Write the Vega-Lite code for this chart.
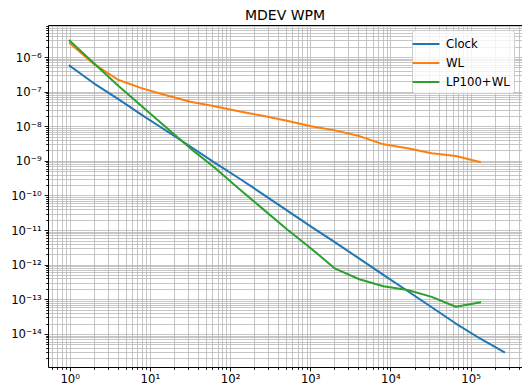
{
  "$schema": "https://vega.github.io/schema/vega-lite/v6.json",
  "width": 474,
  "height": 342,
  "autosize": {"type": "none"},
  "padding": {"left": 48, "top": 25, "right": 0, "bottom": 24},
  "background": "white",
  "title": {"text": "MDEV WPM", "font": "DejaVu Sans", "fontSize": 14, "fontWeight": "normal", "color": "black", "offset": 6, "dy": 8, "anchor": "middle", "frame": "group"},
  "data": {"values": [
    {"tau": 1, "mdev": 5.6e-7, "series": "Clock"},
    {"tau": 2, "mdev": 1.74e-7, "series": "Clock"},
    {"tau": 4, "mdev": 6.2e-8, "series": "Clock"},
    {"tau": 8, "mdev": 2.1e-8, "series": "Clock"},
    {"tau": 16, "mdev": 7.4e-9, "series": "Clock"},
    {"tau": 32, "mdev": 2.6e-9, "series": "Clock"},
    {"tau": 64, "mdev": 8.9e-10, "series": "Clock"},
    {"tau": 128, "mdev": 3.2e-10, "series": "Clock"},
    {"tau": 256, "mdev": 1.1e-10, "series": "Clock"},
    {"tau": 512, "mdev": 3.7e-11, "series": "Clock"},
    {"tau": 1024, "mdev": 1.26e-11, "series": "Clock"},
    {"tau": 2048, "mdev": 4.4e-12, "series": "Clock"},
    {"tau": 4096, "mdev": 1.5e-12, "series": "Clock"},
    {"tau": 8192, "mdev": 5.1e-13, "series": "Clock"},
    {"tau": 16384, "mdev": 1.74e-13, "series": "Clock"},
    {"tau": 32768, "mdev": 5.9e-14, "series": "Clock"},
    {"tau": 65536, "mdev": 2.0e-14, "series": "Clock"},
    {"tau": 131072, "mdev": 7.4e-15, "series": "Clock"},
    {"tau": 262144, "mdev": 3.0e-15, "series": "Clock"},
    {"tau": 1, "mdev": 2.5e-6, "series": "WL"},
    {"tau": 2, "mdev": 6.3e-7, "series": "WL"},
    {"tau": 4, "mdev": 2.2e-7, "series": "WL"},
    {"tau": 8, "mdev": 1.24e-7, "series": "WL"},
    {"tau": 16, "mdev": 7.9e-8, "series": "WL"},
    {"tau": 32, "mdev": 5.1e-8, "series": "WL"},
    {"tau": 64, "mdev": 3.8e-8, "series": "WL"},
    {"tau": 128, "mdev": 2.7e-8, "series": "WL"},
    {"tau": 256, "mdev": 2.0e-8, "series": "WL"},
    {"tau": 512, "mdev": 1.45e-8, "series": "WL"},
    {"tau": 1024, "mdev": 1.0e-8, "series": "WL"},
    {"tau": 2048, "mdev": 7.6e-9, "series": "WL"},
    {"tau": 4096, "mdev": 5.2e-9, "series": "WL"},
    {"tau": 8192, "mdev": 3.0e-9, "series": "WL"},
    {"tau": 16384, "mdev": 2.3e-9, "series": "WL"},
    {"tau": 32768, "mdev": 1.65e-9, "series": "WL"},
    {"tau": 65536, "mdev": 1.38e-9, "series": "WL"},
    {"tau": 131072, "mdev": 9.3e-10, "series": "WL"},
    {"tau": 1, "mdev": 2.96e-6, "series": "LP100+WL"},
    {"tau": 2, "mdev": 6.6e-7, "series": "LP100+WL"},
    {"tau": 4, "mdev": 1.5e-7, "series": "LP100+WL"},
    {"tau": 8, "mdev": 3.7e-8, "series": "LP100+WL"},
    {"tau": 16, "mdev": 9.2e-9, "series": "LP100+WL"},
    {"tau": 32, "mdev": 2.3e-9, "series": "LP100+WL"},
    {"tau": 64, "mdev": 6.4e-10, "series": "LP100+WL"},
    {"tau": 128, "mdev": 1.6e-10, "series": "LP100+WL"},
    {"tau": 256, "mdev": 4.1e-11, "series": "LP100+WL"},
    {"tau": 512, "mdev": 1.06e-11, "series": "LP100+WL"},
    {"tau": 1024, "mdev": 2.95e-12, "series": "LP100+WL"},
    {"tau": 2048, "mdev": 7.7e-13, "series": "LP100+WL"},
    {"tau": 4096, "mdev": 3.8e-13, "series": "LP100+WL"},
    {"tau": 8192, "mdev": 2.4e-13, "series": "LP100+WL"},
    {"tau": 16384, "mdev": 1.86e-13, "series": "LP100+WL"},
    {"tau": 32768, "mdev": 1.18e-13, "series": "LP100+WL"},
    {"tau": 65536, "mdev": 6.1e-14, "series": "LP100+WL"},
    {"tau": 131072, "mdev": 8.1e-14, "series": "LP100+WL"}
  ]},
  "layer": [
    {
      "mark": {"type": "line", "strokeWidth": 2, "strokeCap": "square", "strokeJoin": "round"},
      "encoding": {
        "x": {"field": "tau", "type": "quantitative",
          "scale": {"type": "log", "domain": [0.536, 438500], "nice": false, "zero": false},
          "axis": {"orient": "bottom", "title": null,
            "values": [0.6,0.7,0.8,0.9,1,2,3,4,5,6,7,8,9,10,20,30,40,50,60,70,80,90,100,200,300,400,500,600,700,800,900,1000,2000,3000,4000,5000,6000,7000,8000,9000,10000,20000,30000,40000,50000,60000,70000,80000,90000,100000,200000,300000,400000],
            "grid": true, "gridColor": "#b8b8b8", "gridWidth": 0.8,
            "domainColor": "black", "domainWidth": 1,
            "tickColor": "black", "tickWidth": 0.9,
            "tickSize": {"condition": {"test": "abs(log(datum.value)/LN10 - round(log(datum.value)/LN10)) < 0.001", "value": 3.9}, "value": 2.3},
            "labelExpr": "abs(log(datum.value)/LN10 - round(log(datum.value)/LN10)) < 0.001 ? ('10' + (round(log(datum.value)/LN10) < 0 ? '⁻' : '') + (abs(round(log(datum.value)/LN10)) >= 10 ? '¹' : '') + ['⁰','¹','²','³','⁴','⁵','⁶','⁷','⁸','⁹'][abs(round(log(datum.value)/LN10)) % 10]) : ''",
            "labelFont": "DejaVu Sans", "labelFontSize": 11.7, "labelColor": "black", "labelPadding": 3,
            "labelOverlap": false, "labelBound": false, "labelFlush": false}
        },
        "y": {"field": "mdev", "type": "quantitative",
          "scale": {"type": "log", "domain": [1.11e-15, 8.41e-6], "nice": false, "zero": false},
          "axis": {"orient": "left", "title": null,
            "values": [2e-15,3e-15,4e-15,5e-15,6e-15,7e-15,8e-15,9e-15,1e-14,2e-14,3e-14,4e-14,5e-14,6e-14,7e-14,8e-14,9e-14,1e-13,2e-13,3e-13,4e-13,5e-13,6e-13,7e-13,8e-13,9e-13,1e-12,2e-12,3e-12,4e-12,5e-12,6e-12,7e-12,8e-12,9e-12,1e-11,2e-11,3e-11,4e-11,5e-11,6e-11,7e-11,8e-11,9e-11,1e-10,2e-10,3e-10,4e-10,5e-10,6e-10,7e-10,8e-10,9e-10,1e-9,2e-9,3e-9,4e-9,5e-9,6e-9,7e-9,8e-9,9e-9,1e-8,2e-8,3e-8,4e-8,5e-8,6e-8,7e-8,8e-8,9e-8,1e-7,2e-7,3e-7,4e-7,5e-7,6e-7,7e-7,8e-7,9e-7,1e-6,2e-6,3e-6,4e-6,5e-6,6e-6,7e-6,8e-6],
            "grid": true, "gridColor": "#b8b8b8", "gridWidth": 0.8,
            "domainColor": "black", "domainWidth": 1,
            "tickColor": "black", "tickWidth": 0.9,
            "tickSize": {"condition": {"test": "abs(log(datum.value)/LN10 - round(log(datum.value)/LN10)) < 0.001", "value": 3.9}, "value": 2.3},
            "labelExpr": "abs(log(datum.value)/LN10 - round(log(datum.value)/LN10)) < 0.001 ? ('10' + (round(log(datum.value)/LN10) < 0 ? '⁻' : '') + (abs(round(log(datum.value)/LN10)) >= 10 ? '¹' : '') + ['⁰','¹','²','³','⁴','⁵','⁶','⁷','⁸','⁹'][abs(round(log(datum.value)/LN10)) % 10]) : ''",
            "labelFont": "DejaVu Sans", "labelFontSize": 11.7, "labelColor": "black", "labelPadding": 3,
            "labelOverlap": false, "labelBound": false, "labelFlush": false}
        },
        "color": {"field": "series", "type": "nominal",
          "scale": {"domain": ["Clock", "WL", "LP100+WL"], "range": ["#1f77b4", "#ff7f0e", "#2ca02c"]},
          "legend": {"orient": "none", "legendX": 364, "legendY": 5, "title": null,
            "symbolType": "M-1.55,0L1.55,0", "symbolSize": 300, "symbolStrokeWidth": 2,
            "labelFont": "DejaVu Sans", "labelFontSize": 11.7, "labelColor": "black", "labelOffset": 10,
            "strokeColor": "#cccccc", "fillColor": "rgba(255,255,255,0.8)", "cornerRadius": 3,
            "padding": 4, "rowPadding": 2}
        }
      }
    },
    {
      "mark": {"type": "line", "opacity": 0},
      "encoding": {
        "x": {"field": "tau", "type": "quantitative",
          "axis": {"orient": "top", "title": null, "grid": false, "ticks": false, "labels": false, "domain": true, "domainColor": "black", "domainWidth": 1, "minExtent": 0, "maxExtent": 0, "offset": 0}},
        "y": {"field": "mdev", "type": "quantitative"}
      }
    }
  ],
  "resolve": {"axis": {"x": "independent"}},
  "config": {"view": {"stroke": null}}
}
